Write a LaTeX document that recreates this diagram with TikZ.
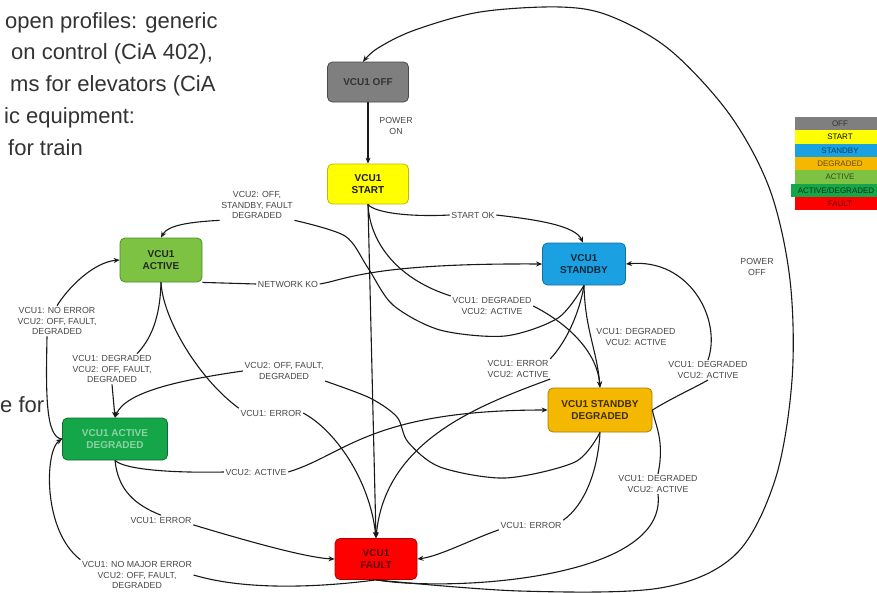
\documentclass[tikz,border=0pt]{standalone}
\usepackage{fontspec}
\setmainfont{Liberation Sans}
\usetikzlibrary{arrows.meta}
\definecolor{cOff}{HTML}{7F7F7F}\definecolor{cOffB}{HTML}{4A4A4A}
\definecolor{cStart}{HTML}{FFFF00}\definecolor{cStartB}{HTML}{C2B800}
\definecolor{cActive}{HTML}{7DC242}\definecolor{cActiveB}{HTML}{4E8A25}
\definecolor{cStandby}{HTML}{1BA1E2}\definecolor{cStandbyB}{HTML}{14709F}
\definecolor{cSdeg}{HTML}{F5B800}\definecolor{cSdegB}{HTML}{A67C00}
\definecolor{cAdeg}{HTML}{16A64A}\definecolor{cAdegB}{HTML}{0D6B2F}
\definecolor{cFault}{HTML}{FF0000}\definecolor{cFaultB}{HTML}{B00000}
\begin{document}
\begin{tikzpicture}[x=1pt,y=-1pt,
  stnode/.style={rounded corners=5pt, line width=0.8pt, align=center,
    font=\bfseries\fontsize{10}{12.5}\selectfont, inner sep=2pt},
  lbl/.style={fill=white, align=center, font=\fontsize{8.8}{10.5}\selectfont,
    text=black!72, inner sep=1.5pt},
  conn/.style={line width=1.1pt, black!90},
  arr/.style={conn, -{Stealth[length=6pt,width=5pt]}},
  bgtext/.style={anchor=base west, font=\fontsize{22}{26}\selectfont, text=black!80, inner sep=0pt},
  legrow/.style={minimum width=90pt, minimum height=13.3pt, inner sep=0pt,
    font=\fontsize{8}{9}\selectfont}]
\fill[white] (0,0) rectangle (877,592);
\useasboundingbox (0,0) rectangle (877,592);

% background text fragments
\begin{scope}
\clip (0,0) rectangle (877,592);
\node[bgtext] (t1) at (5,28) {open profiles: generic};
\node[bgtext] (t2) at (11,59) {on control (CiA 402),};
\node[bgtext] (t3) at (10,91) {ms for elevators (CiA};
\node[bgtext] (t4) at (4,123) {ic equipment:};
\node[bgtext] (t5) at (8,155) {for train};
\node[bgtext] (t6) at (0,412) {e for};
% legend
\node[legrow, fill=cOff, text=cOff!40!black] (lg1) at (840,123.65) {OFF};
\node[legrow, fill=cStart, text=black] (lg2) at (840,136.95) {START};
\node[legrow, fill=cStandby, text=cStandby!40!black] (lg3) at (840,150.25) {STANDBY};
\node[legrow, fill=cSdeg, text=cSdeg!40!black] (lg4) at (840,163.55) {DEGRADED};
\node[legrow, fill=cActive, text=cActive!40!black] (lg5) at (840,176.85) {ACTIVE};
\node[legrow, fill=cAdeg, text=cAdeg!30!black] (lg6) at (836,190.15) {ACTIVE/DEGRADED};
\node[legrow, fill=cFault, text=cFault!40!black] (lg7) at (840,203.45) {FAULT};
\end{scope}

% states
\node[stnode, fill=cOff, draw=cOffB, text=black!80, minimum width=81pt, minimum height=40pt] (off) at (368,82) {VCU1 OFF};
\node[stnode, fill=cStart, draw=cStartB, text=black!90, minimum width=81pt, minimum height=40pt] (start) at (368,184) {VCU1\\START};
\node[stnode, fill=cActive, draw=cActiveB, text=black!85, minimum width=82pt, minimum height=44pt] (active) at (161,260) {VCU1\\ACTIVE};
\node[stnode, fill=cStandby, draw=cStandbyB, text=cStandby!25!black, minimum width=83pt, minimum height=42pt] (standby) at (584,264) {VCU1\\STANDBY};
\node[stnode, fill=cSdeg, draw=cSdegB, text=cSdeg!25!black, minimum width=104pt, minimum height=44pt] (sdeg) at (600,410) {VCU1 STANDBY\\DEGRADED};
\node[stnode, fill=cAdeg, draw=cAdegB, text=cAdeg!50!white, minimum width=105pt, minimum height=42pt] (adeg) at (115,439) {VCU1 ACTIVE\\DEGRADED};
\node[stnode, fill=cFault, draw=cFaultB, text=cFault!35!black, minimum width=82pt, minimum height=41pt] (fault) at (376,559) {VCU1\\FAULT};

% labels
\node[lbl] (lpon) at (396,126) {POWER\\ON};
\node[lbl] (lpoff) at (757,267) {POWER\\OFF};
\node[lbl] (lsok) at (473,215) {START OK};
\node[lbl] (ls2a) at (257,205) {VCU2: OFF,\\STANDBY, FAULT\\DEGRADED};
\node[lbl] (lnko) at (288,284) {NETWORK KO};
\node[lbl] (lst2sd) at (492,306) {VCU1: DEGRADED\\VCU2: ACTIVE};
\node[lbl] (lsb2sd) at (636,337) {VCU1: DEGRADED\\VCU2: ACTIVE};
\node[lbl] (lsb2f) at (518,369) {VCU1: ERROR\\VCU2: ACTIVE};
\node[lbl] (lsd2sb) at (708,370) {VCU1: DEGRADED\\VCU2: ACTIVE};
\node[lbl] (lf2sd) at (658,484) {VCU1: DEGRADED\\VCU2: ACTIVE};
\node[lbl] (lsd2f) at (531,525) {VCU1: ERROR};
\node[lbl] (la2ad) at (112,369) {VCU1: DEGRADED\\VCU2: OFF, FAULT,\\DEGRADED};
\node[lbl] (lad2a) at (57,321) {VCU1: NO ERROR\\VCU2: OFF, FAULT,\\DEGRADED};
\node[lbl] (lsd2ad) at (284,371) {VCU2: OFF, FAULT,\\DEGRADED};
\node[lbl] (la2f) at (271,413) {VCU1: ERROR};
\node[lbl] (lad2sd) at (256,472) {VCU2: ACTIVE};
\node[lbl] (lad2f) at (161,520) {VCU1: ERROR};
\node[lbl] (lf2ad) at (137,575) {VCU1: NO MAJOR ERROR\\VCU2: OFF, FAULT,\\DEGRADED};

% connectors
\draw[arr] (off) -- (start);
\draw[arr] plot[smooth,tension=0.55] coordinates {(fault.south) (520,591) (660,588) (735,555) (775,480) (792,380) (790,280) (770,190) (730,115) (670,50) (610,16) (560,7) (480,12) (415,30) (378,48) ([xshift=-5pt]off.north)};

\draw[conn] (start.south) .. controls (375,213) and (410,217) .. (lsok.west);
\draw[arr] (lsok.east) .. controls (540,220) and (575,226) .. ([xshift=-1pt]standby.north);

\draw[arr] (start.south) -- (fault.north);

\draw[conn] (start.south) .. controls (370,245) and (400,280) .. (lst2sd.north west);
\draw[arr] (lst2sd.east) .. controls (565,322) and (597,350) .. (sdeg.north);

\draw[conn] plot[smooth] coordinates {(standby.south) (558,318) (505,336) (440,330) (393,305) (368,268) (345,236) (ls2a.south east)};
\draw[arr] (ls2a.south west) .. controls (190,222) and (168,225) .. (active.north);

\draw[conn] (active.south east) -- (lnko.west);
\draw[arr] (lnko.east) .. controls (345,280) and (370,263) .. (standby.west);

\draw[arr] (standby.south) .. controls (585,330) and (597,350) .. (sdeg.north);

\draw[conn] (standby.south) .. controls (580,310) and (568,340) .. (lsb2f.north east);
\draw[arr] (lsb2f.south east) .. controls (480,405) and (385,440) .. (fault.north);

\draw[conn] (active.south) .. controls (163,320) and (200,380) .. (la2f.north west);
\draw[arr] (la2f.east) .. controls (335,430) and (370,480) .. (fault.north);

\draw[conn] (active.south) .. controls (160,320) and (150,340) .. ([xshift=25pt]la2ad.north);
\draw[arr] (la2ad.south) -- (adeg.north);

\draw[conn] plot[smooth] coordinates {(sdeg.south) (575,462) (505,478) (440,467) (408,442) (397,417) (370,398) (lsd2ad.south east)};
\draw[arr] (lsd2ad.west) .. controls (180,380) and (125,392) .. (adeg.north);

\draw[conn] (adeg.west) .. controls (45,438) and (46,390) .. ([xshift=-10pt]lad2a.south);
\draw[arr] (lad2a.north) .. controls (70,285) and (95,262) .. (active.west);

\draw[conn] (fault.south) .. controls (330,586) and (250,592) .. (lf2ad.east);
\draw[arr] (lf2ad.north west) .. controls (42,530) and (45,450) .. (adeg.west);

\draw[conn] (adeg.south) .. controls (125,470) and (175,473) .. (lad2sd.west);
\draw[arr] (lad2sd.east) .. controls (345,455) and (370,410) .. (sdeg.west);

\draw[conn] (adeg.south) .. controls (118,490) and (135,505) .. (lad2f.north);
\draw[arr] (lad2f.south east) .. controls (260,545) and (310,558) .. (fault.west);

\draw[conn] (sdeg.south) .. controls (598,470) and (585,505) .. (lsd2f.north east);
\draw[arr] (lsd2f.south west) .. controls (470,540) and (440,556) .. (fault.east);

\draw[conn] (fault.south) .. controls (450,592) and (668,580) .. (lf2sd.south);
\draw[conn] (lf2sd.north) .. controls (665,440) and (655,425) .. (sdeg.east);

\draw[conn] (sdeg.east) .. controls (672,398) and (690,390) .. (lsd2sb.south);
\draw[arr] (lsd2sb.north) .. controls (722,320) and (690,258) .. (standby.east);
\end{tikzpicture}
\end{document}
